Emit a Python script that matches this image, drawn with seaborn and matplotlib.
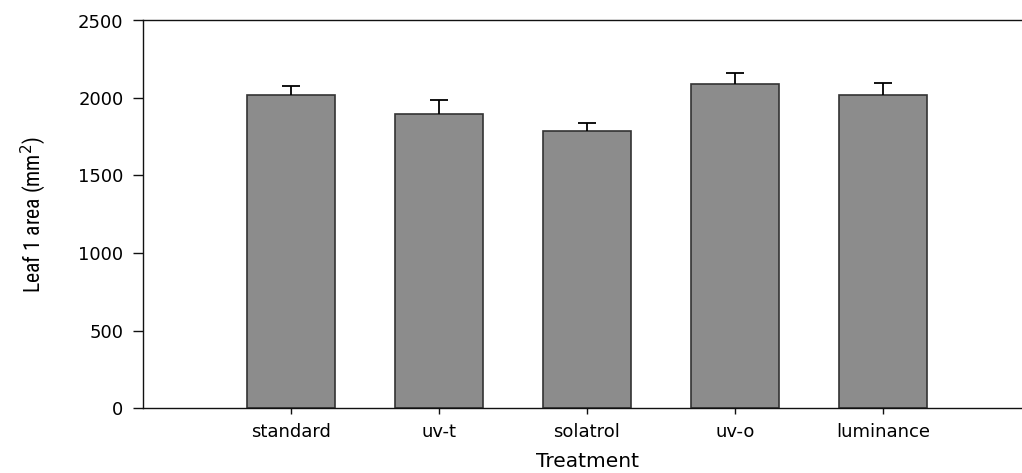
import matplotlib
matplotlib.use("Agg")
import matplotlib.pyplot as plt
from matplotlib import font_manager
import seaborn as sns
import pandas as pd
import numpy as np

categories = ["standard", "uv-t", "solatrol", "uv-o", "luminance"]
leaf_area = [2017, 1894, 1785, 2090, 2019]
leaf_err = [60, 95, 53, 70, 77]
y_ticks = [0, 500, 1000, 1500, 2000, 2500]

sns.set_theme(style="white")
plt.rcParams['font.family'] = ['DejaVu Sans']
plt.rcParams['text.color'] = 'black'
plt.rcParams['axes.labelcolor'] = 'black'
plt.rcParams['xtick.color'] = 'black'
plt.rcParams['ytick.color'] = 'black'

# pick a narrow font for the y label if available
names = sorted({f.name for f in font_manager.fontManager.ttflist})
narrow = None
for cand in ["Liberation Sans Narrow", "DejaVu Sans Condensed", "Roboto Condensed", "Open Sans Condensed"]:
    if cand in names:
        narrow = cand
        break
if narrow is None:
    for n in names:
        if "Narrow" in n or "Condensed" in n:
            narrow = n
            break

df = pd.DataFrame({"Treatment": categories, "area": leaf_area})

fig = plt.figure(figsize=(10.22, 4.73), dpi=100)
ax = fig.add_axes([143/1022, 65/473, 888/1022, 387.5/473])

sns.barplot(data=df, x="Treatment", y="area", order=categories, color="#8c8c8c",
            saturation=1, width=0.6, edgecolor="#333333", linewidth=1.2, ax=ax, errorbar=None)

xpos = np.arange(len(categories))
eb = ax.errorbar(xpos, leaf_area, yerr=[np.zeros(len(leaf_err)), leaf_err], fmt="none",
                 ecolor="black", elinewidth=1.3, capsize=6.8, capthick=1.3)
caplines = eb[1]
if len(caplines) >= 2:
    caplines[0].set_visible(False)

ax.set_xlim(-1, 5)
ax.set_ylim(0, 2500)
ax.set_yticks(y_ticks)
ax.set_yticklabels([str(t) for t in y_ticks])

for s in ["left", "bottom", "top", "right"]:
    ax.spines[s].set_visible(True)
    ax.spines[s].set_color("#111111")
    ax.spines[s].set_linewidth(1.0)

ax.tick_params(axis="y", direction="out", length=7, width=1, color="#111111",
               labelsize=13, pad=7, left=True)
ax.tick_params(axis="x", direction="out", length=4, width=1, color="#111111",
               labelsize=13, pad=7, bottom=True)

ax.set_xlabel("Treatment", fontsize=14.5, labelpad=8)
if narrow is not None:
    ax.set_ylabel("Leaf 1 area (mm$^2$)", fontsize=15.5, family=[narrow, "DejaVu Sans"], labelpad=22)
else:
    ax.set_ylabel("Leaf 1 area (mm$^2$)", fontsize=15.5, family=["DejaVu Sans"],
                  stretch="condensed", labelpad=22)

fig.savefig("out.png", dpi=100)
